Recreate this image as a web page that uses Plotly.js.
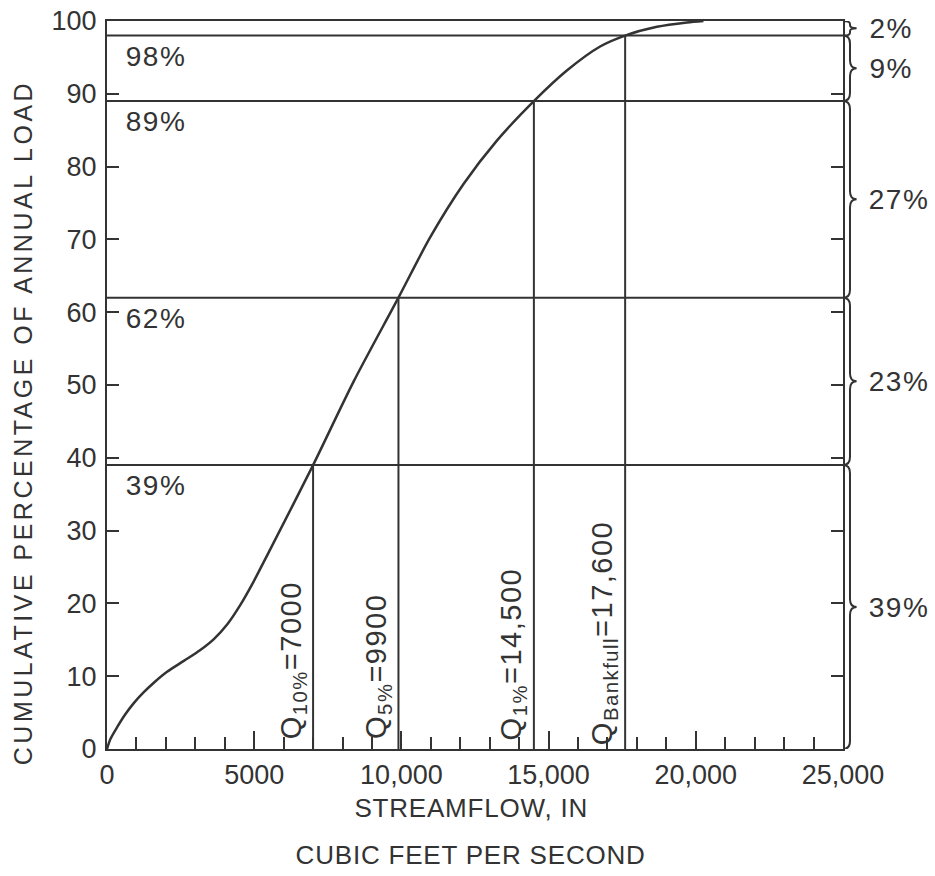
<!DOCTYPE html>
<html>
<head>
<meta charset="utf-8">
<script src="https://cdn.plot.ly/plotly-3.0.1.min.js"></script>
<style>
html, body { margin: 0; padding: 0; background: #ffffff; }
#chart { width: 935px; height: 876px; }
.annotation text { letter-spacing: 1.5px; }
.annotation[data-index="0"] text { letter-spacing: 3.5px; }
.annotation[data-index="1"] text, .annotation[data-index="2"] text { letter-spacing: 0.8px; }
</style>
</head>
<body>
<div id="chart"></div>
<script>
// Cumulative load curve
const flow = [0, 120, 345, 628, 910, 1250, 1590, 2040, 2610, 3170, 3630, 4080, 4530, 4980, 5440,
              7000, 8380, 9900, 10980, 12110, 13250, 14500, 15620, 16750, 17600, 18680, 19700, 20260];
const load = [0, 1.4, 3.0, 4.8, 6.3, 7.8, 9.1, 10.6, 12.1, 13.6, 15.1, 17.1, 19.8, 23.0, 26.6,
              39, 50.5, 62, 70.3, 77.6, 83.6, 89, 93.2, 96.5, 98, 99.2, 99.8, 100];

// Marked discharges and their cumulative load
const markFlows = [7000, 9900, 14500, 17600];
const markLoads = [39, 62, 89, 98];
const markNames = ['Q<sub>10%</sub>=7000', 'Q<sub>5%</sub>=9900', 'Q<sub>1%</sub>=14,500', 'Q<sub>Bankfull</sub>=17,600'];

// Bracket boundaries on the right side
const bounds = [0, 39, 62, 89, 98, 100];

// Axis ticks
const xTickVals = [0, 5000, 10000, 15000, 20000, 25000];
const xTickText = ['0', '5000', '10,000', '15,000', '20,000', '25,000'];
const yTickVals = [0, 10, 20, 30, 40, 50, 60, 70, 80, 90, 100];

const INK = '#333333';
const FONT = 'Liberation Sans, Arial, Helvetica, sans-serif';

const traces = [{
  type: 'scatter', mode: 'lines', x: flow, y: load,
  line: { color: INK, width: 2.5, shape: 'spline', smoothing: 0.8 },
  hoverinfo: 'x+y', showlegend: false
}];

const shapes = [];
const annotations = [];

// y-axis title (index 0)
annotations.push({
  xref: 'paper', yref: 'paper', x: -0.115, y: 0.448, xanchor: 'center', yanchor: 'middle',
  textangle: -90, showarrow: false, text: 'CUMULATIVE PERCENTAGE OF ANNUAL LOAD',
  font: { family: FONT, size: 25, color: INK }
});
// x-axis title lines (index 1, 2)
annotations.push({
  xref: 'paper', yref: 'paper', x: 0.494, y: -0.081, xanchor: 'center', yanchor: 'middle',
  showarrow: false, text: 'STREAMFLOW, IN', font: { family: FONT, size: 26, color: INK }
});
annotations.push({
  xref: 'paper', yref: 'paper', x: 0.494, y: -0.1456, xanchor: 'center', yanchor: 'middle',
  showarrow: false, text: 'CUBIC FEET PER SECOND', font: { family: FONT, size: 26, color: INK }
});

// horizontal + vertical reference lines and labels
markLoads.forEach((v, i) => {
  shapes.push({ type: 'line', xref: 'x', yref: 'y', x0: xTickVals[0], x1: xTickVals[xTickVals.length - 1],
                y0: v, y1: v, line: { color: INK, width: 2 } });
  shapes.push({ type: 'line', xref: 'x', yref: 'y', x0: markFlows[i], x1: markFlows[i],
                y0: 0, y1: v, line: { color: INK, width: 2 } });
  annotations.push({
    xref: 'paper', yref: 'y', x: 0.026, y: v, xanchor: 'left', yanchor: 'top', yshift: -3,
    showarrow: false, text: v + '%', font: { family: FONT, size: 28, color: INK }
  });
  annotations.push({
    xref: 'x', yref: 'y', x: markFlows[i], y: 0, xanchor: 'right', yanchor: 'bottom',
    xshift: -1, yshift: 14, textangle: -90, showarrow: false, text: markNames[i],
    font: { family: FONT, size: 29, color: INK }
  });
});

// right-side curly brackets with the share of load in each band
const AX = 1.0, SP = 1.0095, TIP = 1.0185;
for (let i = 0; i < bounds.length - 1; i++) {
  const y0 = bounds[i], y1 = bounds[i + 1];
  const mid = (y0 + y1) / 2;
  const d = Math.min(1.1, (y1 - y0) / 5);
  const path = `M ${AX},${y1} Q ${SP},${y1} ${SP},${y1 - d} L ${SP},${mid + d} ` +
               `Q ${SP},${mid} ${TIP},${mid} Q ${SP},${mid} ${SP},${mid - d} ` +
               `L ${SP},${y0 + d} Q ${SP},${y0} ${AX},${y0}`;
  shapes.push({ type: 'path', xref: 'paper', yref: 'y', path: path, line: { color: INK, width: 2 } });
  annotations.push({
    xref: 'paper', yref: 'y', x: 1.036, y: mid, xanchor: 'left', yanchor: 'middle',
    showarrow: false, text: (y1 - y0) + '%', font: { family: FONT, size: 28, color: INK }
  });
}

const layout = {
  width: 935, height: 876,
  margin: { l: 107, r: 92, t: 21, b: 127, pad: 0 },
  paper_bgcolor: '#ffffff', plot_bgcolor: '#ffffff',
  showlegend: false,
  font: { family: FONT, color: INK, size: 27 },
  xaxis: {
    range: [0, 25000], showgrid: false, zeroline: false,
    showline: true, linewidth: 2, linecolor: INK, mirror: true,
    ticks: 'inside', ticklen: 18, tickwidth: 2, tickcolor: INK,
    tickmode: 'array', tickvals: xTickVals, ticktext: xTickText,
    ticklabelstandoff: 1, tickfont: { family: FONT, size: 27, color: INK },
    minor: { tickmode: 'linear', tick0: 0, dtick: 1000, ticks: 'inside', ticklen: 12,
             tickwidth: 2, tickcolor: INK, showgrid: false }
  },
  yaxis: {
    range: [0, 100], showgrid: false, zeroline: false,
    showline: true, linewidth: 2, linecolor: INK, mirror: 'ticks',
    ticks: 'inside', ticklen: 12, tickwidth: 2, tickcolor: INK,
    tickmode: 'array', tickvals: yTickVals,
    ticklabelstandoff: 3, tickfont: { family: FONT, size: 27, color: INK }
  },
  shapes: shapes,
  annotations: annotations
};

Plotly.newPlot('chart', traces, layout, { staticPlot: true, displayModeBar: false });
</script>
</body>
</html>
